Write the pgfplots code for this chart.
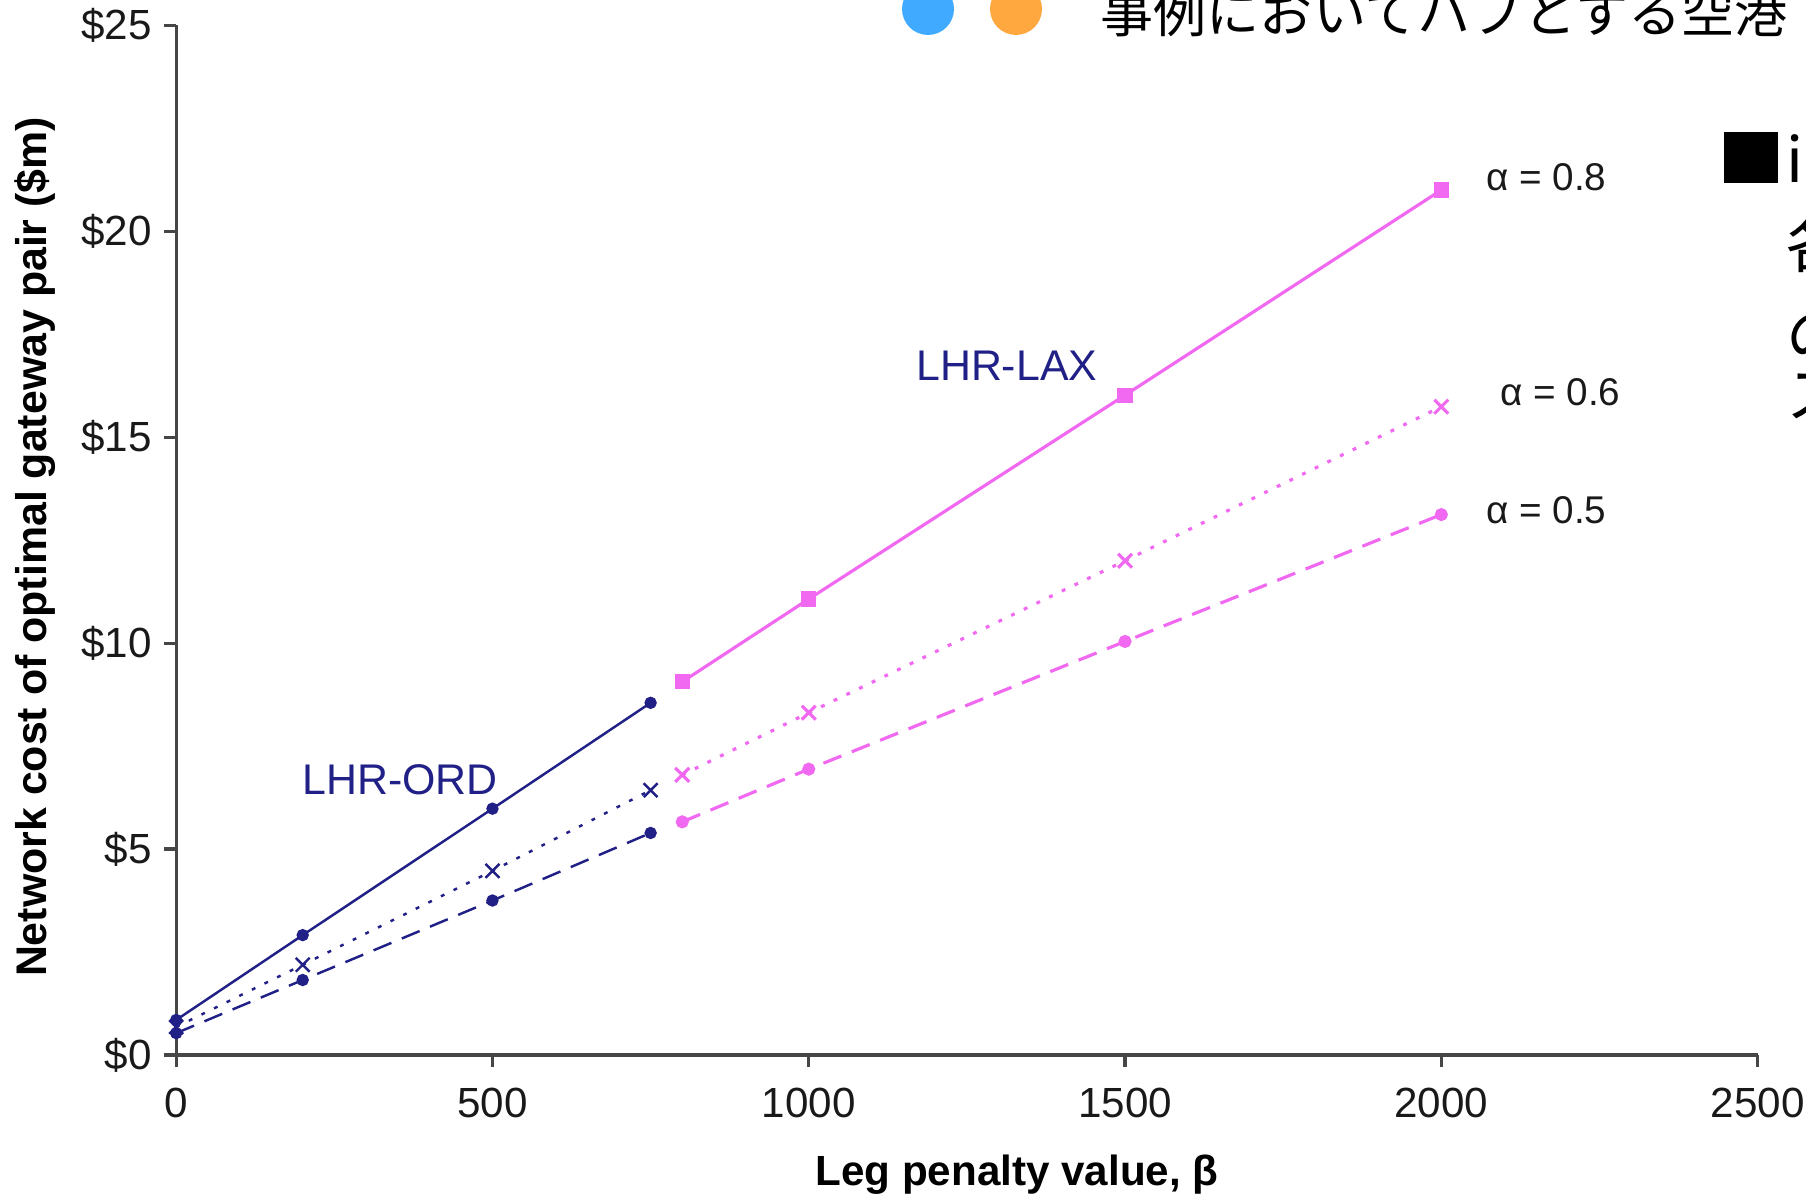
\documentclass[border=0pt]{standalone}
\usepackage{fontspec}
\setmainfont{Liberation Sans}
\newfontfamily\jp{Noto Sans CJK JP}
\usepackage{pgfplots}
\pgfplotsset{compat=1.18}
\definecolor{navy}{RGB}{32,32,135}
\definecolor{pinkm}{RGB}{240,105,240}
\definecolor{blue0}{RGB}{63,170,255}
\definecolor{orng}{RGB}{255,168,64}
\definecolor{axgray}{RGB}{70,70,70}
\begin{document}
\begin{tikzpicture}
\path[use as bounding box] (0mm,0mm) rectangle (180.6mm,119.9mm);
\clip (0mm,0mm) rectangle (180.6mm,119.9mm);
\begin{scope}[x=0.1mm,y=0.1mm]
% slide overlay elements
\fill[blue0] (928,1190) circle [radius=26];
\fill[orng] (1016,1190) circle [radius=26];
\node[anchor=base west, inner sep=0, font=\jp\fontsize{15.1}{18}\selectfont] at (1100,1166) {事例においてハブとする空港};
\fill[black] (1724,1016) rectangle (1778,1067);
\node[anchor=base west, inner sep=0, font=\jp\fontsize{17.6}{20}\selectfont] at (1786,1016) {in};
\node[anchor=base west, inner sep=0, font=\jp\fontsize{17.6}{20}\selectfont] at (1786,931) {各};
\node[anchor=base west, inner sep=0, font=\jp\fontsize{17.6}{20}\selectfont] at (1786,841) {の};
\node[anchor=base west, inner sep=0, font=\jp\fontsize{17.6}{20}\selectfont] at (1786,781) {ス};
\end{scope}
\begin{axis}[
  at={(17.62mm,14.4mm)}, anchor=south west,
  scale only axis, width=158.14mm, height=102.97mm,
  xmin=0, xmax=2500, ymin=0, ymax=25,
  axis x line=bottom, axis y line=left,
  axis line style={-, axgray, line width=0.9pt},
  xtick={0,500,1000,1500,2000,2500},
  xticklabels={0,500,1000,1500,2000,2500},
  ytick={0,5,10,15,20,25},
  yticklabels={\$0,\$5,\$10,\$15,\$20,\$25},
  tick align=outside, major tick length=1.2mm,
  tick style={axgray, line width=0.9pt},
  ticklabel style={font=\fontsize{12}{14}\selectfont, text=black!90},
  xticklabel style={yshift=-0.9mm},
  xlabel={\textbf{Leg penalty value, β}},
  ylabel={\textbf{Network cost of optimal gateway pair (\$m)}},
  xlabel style={at={(axis description cs:0.5317,-0.1165)}, anchor=center, font=\fontsize{12}{14}\selectfont},
  ylabel style={at={(axis description cs:-0.0892,0.4934)}, anchor=center, font=\fontsize{12.2}{14}\selectfont},
  clip=false,
  every axis plot/.append style={mark options={solid}},
]
% LHR-ORD
\addplot[navy, line width=0.7pt, mark=*, mark size=1.4pt] coordinates {(0,0.85)(200,2.91)(500,5.98)(750,8.55)};
\addplot[navy, line width=0.7pt, dash pattern=on 1.1pt off 2.9pt, mark=x, mark size=2.8pt] coordinates {(0,0.68)(200,2.19)(500,4.47)(750,6.43)};
\addplot[navy, line width=0.7pt, dash pattern=on 5.5pt off 3.2pt, mark=*, mark size=1.4pt] coordinates {(0,0.53)(200,1.82)(500,3.75)(750,5.39)};
% LHR-LAX
\addplot[pinkm, line width=0.9pt, mark=square*, mark size=1.7pt] coordinates {(800,9.06)(1000,11.07)(1500,16.02)(2000,21.0)};
\addplot[pinkm, line width=0.9pt, dash pattern=on 1.1pt off 2.9pt, mark=x, mark size=2.8pt] coordinates {(800,6.80)(1000,8.31)(1500,12.0)(2000,15.74)};
\addplot[pinkm, line width=0.9pt, dash pattern=on 5.5pt off 3.2pt, mark=*, mark size=1.4pt] coordinates {(800,5.66)(1000,6.94)(1500,10.04)(2000,13.12)};
\node[navy, font=\fontsize{12.2}{14}\selectfont] at (axis cs:354,6.68) {LHR-ORD};
\node[navy, font=\fontsize{12.2}{14}\selectfont] at (axis cs:1313,16.73) {LHR-LAX};
\node[anchor=west, inner sep=0, text=black!90, font=\fontsize{11}{13}\selectfont] at (axis cs:2070,21.32) {α = 0.8};
\node[anchor=west, inner sep=0, text=black!90, font=\fontsize{11}{13}\selectfont] at (axis cs:2092,16.10) {α = 0.6};
\node[anchor=west, inner sep=0, text=black!90, font=\fontsize{11}{13}\selectfont] at (axis cs:2070,13.23) {α = 0.5};
\end{axis}
\end{tikzpicture}
\end{document}
